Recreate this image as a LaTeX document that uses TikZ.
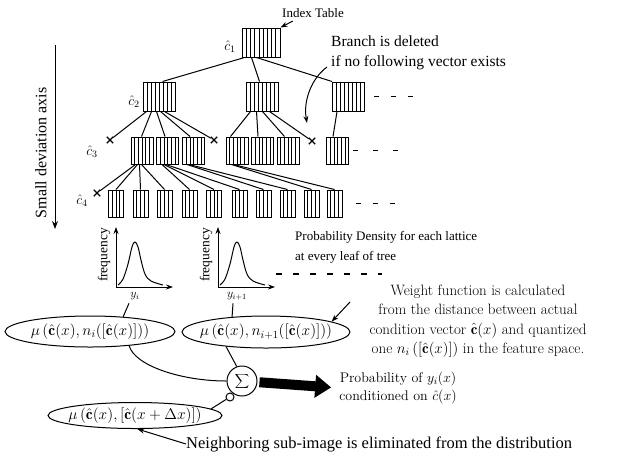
\documentclass[tikz,border=0pt]{standalone}
\usepackage{fix-cm}
\usepackage{fontspec}
\newfontfamily\tms{Liberation Serif}
\usetikzlibrary{arrows.meta,shapes.geometric,shapes.misc,calc}
\tikzset{
  conn/.style={line width=1pt},
  stripes/.style={path picture={
    \foreach \k in {1,...,#1}{
      \draw[line width=0.6pt]
        ($(path picture bounding box.south west)!\k/(#1+1)!(path picture bounding box.south east)$) --
        ($(path picture bounding box.north west)!\k/(#1+1)!(path picture bounding box.north east)$);
    }}},
  rootbox/.style={draw, line width=1pt, inner sep=0pt, minimum width=38pt, minimum height=29pt, stripes=8},
  twobox/.style={draw, line width=1pt, inner sep=0pt, minimum width=32pt, minimum height=29pt, stripes=7},
  threebox/.style={draw, line width=1pt, inner sep=0pt, minimum width=22pt, minimum height=27pt, stripes=5},
  fourbox/.style={draw, line width=1pt, inner sep=0pt, minimum width=15pt, minimum height=27pt, stripes=3},
  xmark/.style={cross out, draw, line width=1.3pt, minimum size=5pt, inner sep=0pt},
  dashes/.style={line width=1.2pt},
  tip/.style={-{Stealth[length=7pt,width=5pt]}},
  oval/.style={ellipse, draw, line width=1pt, inner sep=0pt},
  clab/.style={font=\fontsize{14}{16}\selectfont},
  freq/.style={rotate=90, font=\tms\fontsize{13.5}{15}\selectfont},
}
\begin{document}
\begin{tikzpicture}[x=1pt,y=-1pt]
\useasboundingbox (0,0) rectangle (617,459);

% ---------- tree nodes ----------
\node[rootbox] (root) at (261,42.5) {};
\node[twobox] (L2a) at (159,96.5) {};
\node[twobox] (L2b) at (262,96.5) {};
\node[twobox] (L2c) at (348.5,96.5) {};

\node[threebox] (L3a1) at (142,150.5) {};
\node[threebox] (L3a2) at (167.5,150.5) {};
\node[threebox] (L3a3) at (193.5,150.5) {};
\node[threebox] (L3b1) at (237,150.5) {};
\node[threebox] (L3b2) at (262.5,150.5) {};
\node[threebox] (L3b3) at (288,150.5) {};
\node[threebox] (L3c) at (337.5,150.5) {};
\node[xmark] (x3a) at (110,140) {};
\node[xmark] (x3b) at (214,140) {};
\node[xmark] (x3c) at (312,141) {};

\foreach \i/\x in {1/116,2/140.5,3/164.5,4/189.5,5/214,6/239.5,7/263.5,8/287.5,9/311.5,10/334.5}
  \node[fourbox] (L4-\i) at (\x,203.5) {};
\node[xmark] (x4) at (97,193) {};

% level labels
\node[clab] (c1) at (230,47) {$\hat{c}_1$};
\node[clab] (c2) at (134,102) {$\hat{c}_2$};
\node[clab] (c3) at (92,152) {$\hat{c}_3$};
\node[clab] (c4) at (82,201) {$\hat{c}_4$};

% ---------- tree connectors ----------
\draw[conn] ([xshift=3pt]root.south west) -- ([xshift=20pt]L2a.north west);
\draw[conn] ([xshift=10pt]root.south west) -- ([xshift=14pt]L2b.north west);
\draw[conn] ([xshift=15pt]root.south west) -- (L2c.north west);

\draw[conn] ([xshift=4pt]L2a.south west) -- (x3a);
\draw[conn] ([xshift=9pt]L2a.south west) -- ([xshift=11pt]L3a1.north west);
\draw[conn] ([xshift=14pt]L2a.south west) -- ([xshift=9pt]L3a2.north west);
\draw[conn] ([xshift=18pt]L2a.south west) -- ([xshift=8pt]L3a3.north west);
\draw[conn] ([xshift=22pt]L2a.south west) -- (x3b);

\draw[conn] ([xshift=5pt]L2b.south west) -- ([xshift=5pt]L3b1.north west);
\draw[conn] ([xshift=11pt]L2b.south west) -- ([xshift=7pt]L3b2.north west);
\draw[conn] ([xshift=17pt]L2b.south west) -- ([xshift=8pt]L3b3.north west);
\draw[conn] ([xshift=24pt]L2b.south west) -- (x3c);

\draw[conn] ([xshift=5pt]L2c.south west) -- ([xshift=7pt]L3c.north west);

\draw[conn] ([xshift=5pt]L3a1.south west) -- (x4);
\draw[conn] ([xshift=7pt]L3a1.south west) -- (L4-1.north);
\draw[conn] ([xshift=9pt]L3a1.south west) -- (L4-2.north);
\draw[conn] ([xshift=11pt]L3a1.south west) -- (L4-3.north);
\draw[conn] ([xshift=6pt]L3a2.south west) -- (L4-4.north);
\draw[conn] ([xshift=8pt]L3a2.south west) -- (L4-5.north);
\draw[conn] ([xshift=10pt]L3a2.south west) -- (L4-6.north);
\draw[conn] ([xshift=5pt]L3a3.south west) -- (L4-7.north);
\draw[conn] ([xshift=7pt]L3a3.south west) -- (L4-8.north);
\draw[conn] ([xshift=6pt]L3b1.south west) -- (L4-9.north);
\draw[conn] ([xshift=8pt]L3b1.south west) -- (L4-10.north);

% trailing dashes
\draw[dashes, dash pattern=on 5pt off 12pt] ([xshift=9pt]L2c.east) -- ++(40,0);
\draw[dashes, dash pattern=on 5pt off 15pt] ([xshift=4pt]L3c.east) -- ++(46,0);
\draw[dashes, dash pattern=on 5pt off 12pt] ([xshift=13pt]L4-10.east) -- ++(40,0);

% ---------- annotations top ----------
\node[font=\tms\fontsize{13}{15}\selectfont] (idx) at (313,13) {Index Table};
\draw[conn, tip] ([xshift=14pt]idx.south west) -- (root.north east);

\node[font=\tms\fontsize{15.5}{20}\selectfont, align=left, anchor=north west, inner sep=0pt] (br) at (331,36)
  {Branch is deleted\\if no following vector exists};
\coordinate (brs) at (327,67);
\coordinate (brt) at (307,123);
\draw[conn, tip] (brs) .. controls (312,78) and (303,100) .. (brt);

% small deviation axis
\coordinate (ax1) at (55,45);
\coordinate (ax2) at (55,229);
\draw[conn, -{Stealth[length=8pt,width=6pt]}] (ax1) -- (ax2);
\node[rotate=90, font=\tms\fontsize{16}{18}\selectfont] (sda) at (41,153) {Small deviation axis};

% ---------- density plots ----------
\foreach \dx/\nm in {0/1,102/2}{
  \begin{scope}[xshift=\dx]
    \draw[conn, -{Stealth[length=7pt,width=5pt]}] (116,287) -- (116,227);
    \draw[conn, -{Stealth[length=7pt,width=5pt]}] (116,287) -- (173,287);
    \draw[conn] plot[smooth, tension=0.6] coordinates
      {(118,285) (123,279) (128,264) (132,247) (135,242) (138,247) (141,260) (145,274) (151,281) (163,285)};
    \node[freq] (f\nm) at (104,255) {frequency};
  \end{scope}
}
\node[font=\fontsize{12}{14}\selectfont] (yi) at (135,296) {$y_i$};
\node[font=\fontsize{12}{14}\selectfont] (yj) at (237,296) {$y_{i+1}$};
\draw[dashes, dash pattern=on 6pt off 11pt] (276,274) -- (382,274);

\node[font=\tms\fontsize{13}{20}\selectfont, align=left, anchor=west, inner sep=0pt] (pd) at (295,247)
  {Probability Density for each lattice\\at every leaf of tree};

% ---------- weight functions ----------
\node[oval, minimum width=170pt, minimum height=31pt, font=\fontsize{15.5}{18}\selectfont] (E1) at (90,331.5)
  {\makebox[0pt]{$\mu\,(\hat{\mathbf{c}}(x), n_i([\hat{\mathbf{c}}(x)]))$}};
\node[oval, minimum width=168pt, minimum height=32pt, font=\fontsize{15.5}{18}\selectfont] (E2) at (266,332)
  {\makebox[0pt]{$\mu\,(\hat{\mathbf{c}}(x), n_{i+1}([\hat{\mathbf{c}}(x)]))$}};
\node[oval, minimum width=174pt, minimum height=26pt, font=\fontsize{15.5}{18}\selectfont] (E3) at (135,415.5)
  {\makebox[0pt]{$\mu\,(\hat{\mathbf{c}}(x), [\hat{\mathbf{c}}(x+\Delta x)])$}};

\draw[conn] ([xshift=-6pt]yi.south) -- (E1.24);
\draw[conn] ([xshift=-4pt]yj.south) -- (E2.156);

\node[circle, draw, line width=1pt, minimum size=30pt, inner sep=0pt, font=\fontsize{13}{15}\selectfont] (sig) at (242,381)
  {\makebox[0pt]{$\displaystyle\sum$}};
\node[circle, draw, line width=1pt, minimum size=8pt, inner sep=0pt, fill=white] (inv) at (230,397) {};

\draw[conn] (E1.-20) .. controls (135,366) and (182,381) .. (sig.west);
\draw[conn] (E2.200) -- (sig.110);
\draw[conn] (inv) -- (E3.5);

\node[font=\fontsize{15}{19.5}\selectfont, align=center] (wt) at (478,321)
  {Weight function is calculated\\
   from the distance between actual\\
   condition vector $\hat{\mathbf{c}}(x)$ and quantized\\
   one $n_i\,([\hat{\mathbf{c}}(x)])$ in the feature space.};
\coordinate (wa) at (350,302);
\draw[conn, tip] (wa) -- (E2.9);

\node[font=\fontsize{14}{18.5}\selectfont, align=center, inner sep=0pt] (pr) at (398,388)
  {Probability of $y_i(x)$\\conditioned on $\hat{c}(x)$};
\draw[line width=10pt, -{Triangle[length=16pt,width=22pt]}, shorten <=2pt, shorten >=8pt] (sig) -- (pr.west);

\node[font=\tms\fontsize{16.5}{18}\selectfont, anchor=west, inner sep=0pt] (nb) at (186,444)
  {Neighboring sub-image is eliminated from the distribution};
\draw[conn, tip] (nb.west) -- (E3.-80);
\end{tikzpicture}
\end{document}
